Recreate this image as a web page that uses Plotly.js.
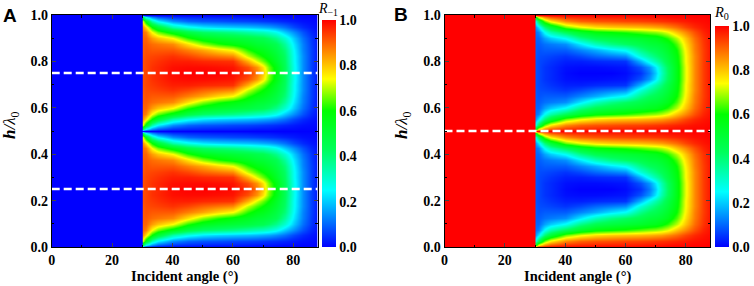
<!DOCTYPE html>
<html><head><meta charset="utf-8">
<script src="https://cdn.plot.ly/plotly-3.0.1.min.js"></script>
<style>body{margin:0;background:#fff}#chart{width:754px;height:286px}</style>
</head><body><div id="chart"></div>
<script>
// Incident angle columns (deg)
const angles = [0, 29.9, 30, 31, 33, 35, 40, 45, 50, 55, 60, 65, 68, 70, 72, 74, 77, 80, 83, 86, 88];
// h/lambda0 rows
const hValues = [0, 0.01, 0.025, 0.05, 0.075, 0.1, 0.125, 0.15, 0.175, 0.2, 0.225, 0.25, 0.275, 0.3, 0.325, 0.35, 0.375, 0.4, 0.425, 0.45, 0.475, 0.49, 0.5,
                 0.51, 0.525, 0.55, 0.575, 0.6, 0.625, 0.65, 0.675, 0.7, 0.725, 0.75, 0.775, 0.8, 0.825, 0.85, 0.875, 0.9, 0.925, 0.95, 0.975, 0.99, 1.0];

// R_-1 read along rows (row name = h distance from nearest node at 0 / 0.5 / 1)
const rm1_d000 = [0,0, 0,    0,    0,    0,    0,    0,    0,    0,    0,    0,    0,    0,    0,    0,    0,    0,    0,    0,    0];
const rm1_d010 = [0,0, 0.45, 0.25, 0.14, 0.09, 0.05, 0.04, 0.035,0.03, 0.03, 0.025,0.02, 0.02, 0.02, 0.015,0.01, 0.01, 0.005,0.005,0];
const rm1_d025 = [0,0, 0.72, 0.55, 0.34, 0.24, 0.14, 0.1,  0.085,0.08, 0.07, 0.065,0.06, 0.055,0.05, 0.045,0.035,0.025,0.015,0.01, 0.005];
const rm1_d050 = [0,0, 0.85, 0.77, 0.6,  0.5,  0.34, 0.27, 0.23, 0.21, 0.2,  0.19, 0.18, 0.17, 0.16, 0.14, 0.11, 0.07, 0.04, 0.02, 0.01];
const rm1_d075 = [0,0, 0.89, 0.87, 0.74, 0.66, 0.56, 0.47, 0.42, 0.4,  0.38, 0.35, 0.33, 0.32, 0.3,  0.27, 0.2,  0.14, 0.08, 0.035,0.015];
const rm1_d100 = [0,0, 0.9,  0.9,  0.84, 0.8,  0.74, 0.62, 0.55, 0.52, 0.5,  0.48, 0.46, 0.45, 0.42, 0.38, 0.3,  0.2,  0.11, 0.05, 0.02];
const rm1_d125 = [0,0, 0.91, 0.91, 0.89, 0.88, 0.86, 0.77, 0.68, 0.62, 0.58, 0.54, 0.51, 0.5,  0.48, 0.45, 0.36, 0.23, 0.125,0.055,0.02];
const rm1_d150 = [0,0, 0.91, 0.92, 0.91, 0.91, 0.91, 0.87, 0.83, 0.78, 0.74, 0.62, 0.57, 0.55, 0.52, 0.48, 0.4,  0.25, 0.13, 0.06, 0.02];
const rm1_d175 = [0,0, 0.915,0.925,0.93, 0.935,0.95, 0.93, 0.9,  0.88, 0.86, 0.71, 0.64, 0.6,  0.56, 0.51, 0.42, 0.26, 0.14, 0.06, 0.02];
const rm1_d200 = [0,0, 0.92, 0.93, 0.94, 0.95, 0.97, 0.97, 0.96, 0.955,0.95, 0.82, 0.72, 0.66, 0.6,  0.53, 0.43, 0.26, 0.14, 0.06, 0.02];
const rm1_d225 = [0,0, 0.92, 0.93, 0.95, 0.96, 0.985,0.99, 0.99, 0.985,0.98, 0.92, 0.85, 0.77, 0.66, 0.57, 0.44, 0.27, 0.14, 0.06, 0.02];
const rm1_d250 = [0,0, 0.92, 0.93, 0.95, 0.96, 0.99, 1.0,  1.0,  1.0,  0.99, 0.95, 0.88, 0.8,  0.68, 0.58, 0.44, 0.27, 0.14, 0.06, 0.02];

// R_0 read along rows
const r0_d000 = [1,1, 1,    1,    1,    1,    1,    1,    1,    1,    1,    1,    1,    1,    1,    1,    1,    1,    1,    1,    1];
const r0_d010 = [1,1, 0.55, 0.75, 0.86, 0.91, 0.95, 0.96, 0.965,0.97, 0.97, 0.975,0.98, 0.98, 0.98, 0.985,0.99, 0.99, 0.995,0.995,1];
const r0_d025 = [1,1, 0.28, 0.45, 0.66, 0.76, 0.86, 0.9,  0.915,0.92, 0.93, 0.935,0.94, 0.945,0.95, 0.955,0.965,0.975,0.985,0.99, 0.995];
const r0_d050 = [1,1, 0.15, 0.23, 0.4,  0.5,  0.66, 0.73, 0.77, 0.79, 0.8,  0.81, 0.82, 0.83, 0.84, 0.86, 0.89, 0.93, 0.96, 0.98, 0.99];
const r0_d075 = [1,1, 0.11, 0.13, 0.26, 0.34, 0.44, 0.53, 0.58, 0.6,  0.62, 0.65, 0.67, 0.68, 0.7,  0.73, 0.8,  0.86, 0.92, 0.965,0.985];
const r0_d100 = [1,1, 0.1,  0.1,  0.16, 0.2,  0.26, 0.38, 0.45, 0.48, 0.5,  0.52, 0.54, 0.55, 0.58, 0.62, 0.7,  0.8,  0.89, 0.95, 0.98];
const r0_d125 = [1,1, 0.09, 0.09, 0.11, 0.12, 0.14, 0.23, 0.32, 0.38, 0.42, 0.46, 0.49, 0.5,  0.52, 0.55, 0.64, 0.77, 0.875,0.945,0.98];
const r0_d150 = [1,1, 0.09, 0.08, 0.09, 0.09, 0.09, 0.13, 0.17, 0.22, 0.26, 0.38, 0.43, 0.45, 0.48, 0.52, 0.6,  0.75, 0.87, 0.94, 0.98];
const r0_d175 = [1,1, 0.085,0.075,0.07, 0.065,0.05, 0.07, 0.1,  0.12, 0.14, 0.29, 0.36, 0.4,  0.44, 0.49, 0.58, 0.74, 0.86, 0.94, 0.98];
const r0_d200 = [1,1, 0.08, 0.07, 0.06, 0.05, 0.03, 0.03, 0.04, 0.045,0.05, 0.18, 0.28, 0.34, 0.4,  0.47, 0.57, 0.74, 0.86, 0.94, 0.98];
const r0_d225 = [1,1, 0.08, 0.07, 0.05, 0.04, 0.015,0.01, 0.01, 0.015,0.02, 0.08, 0.15, 0.23, 0.34, 0.43, 0.56, 0.73, 0.86, 0.94, 0.98];
const r0_d250 = [1,1, 0.08, 0.07, 0.05, 0.04, 0.01, 0,    0,    0,    0.01, 0.05, 0.12, 0.2,  0.32, 0.42, 0.56, 0.73, 0.86, 0.94, 0.98];

// dashed guide lines
const dashA = [0.25, 0.75];
const dashB = [0.5];
const angleSpan = [0, 88];

const xTicks = [0, 20, 40, 60, 80];
const yTicks = [0, 0.2, 0.4, 0.6, 0.8, 1.0];

function buildZ(r) {
  const n = r.length;
  const half = r.slice(0, n).concat(r.slice(1, n - 1).reverse());
  return half.concat(half, [r[0]]);
}
const zA = buildZ([rm1_d000, rm1_d010, rm1_d025, rm1_d050, rm1_d075, rm1_d100, rm1_d125, rm1_d150, rm1_d175, rm1_d200, rm1_d225, rm1_d250]);
const zB = buildZ([r0_d000, r0_d010, r0_d025, r0_d050, r0_d075, r0_d100, r0_d125, r0_d150, r0_d175, r0_d200, r0_d225, r0_d250]);

const W = 754, H = 286;
const px = v => v / W, py = v => 1 - v / H;

const cscale = [[0,'rgb(0,0,255)'],[0.125,'rgb(0,128,255)'],[0.25,'rgb(0,255,255)'],[0.43,'rgb(0,255,90)'],
                [0.6,'rgb(0,255,0)'],[0.74,'rgb(255,255,0)'],[0.87,'rgb(255,128,0)'],[1,'rgb(255,0,0)']];

const SERIF = '"Liberation Serif", "Times New Roman", Times, serif';
const SANS = '"Liberation Sans", Arial, sans-serif';
const tickFont = {family: SERIF, size:14, color:'#000'};
const b = s => '<b>' + s + '</b>';

function cbar(xLeft, topPx) {
  return {x: px(xLeft), xanchor:'left', y: py(247), yanchor:'bottom', len: 247 - topPx, lenmode:'pixels',
          thickness: 14, thicknessmode:'pixels', outlinewidth: 0, xpad: 0, ypad: 0,
          tickvals: yTicks, ticktext: yTicks.map(v => b(v.toFixed(1))), ticks:'', tickfont: tickFont, title:{text:''}};
}

const traces = [
  {type:'heatmap', x: angles, y: hValues, z: zA, zmin:0, zmax:1, zsmooth:'best', colorscale: cscale,
   xaxis:'x', yaxis:'y', colorbar: cbar(322, 20), hoverinfo:'skip'},
  {type:'heatmap', x: angles, y: hValues, z: zB, zmin:0, zmax:1, zsmooth:'best', colorscale: cscale,
   xaxis:'x2', yaxis:'y2', colorbar: cbar(715, 26), hoverinfo:'skip'}
];
dashA.forEach(h => traces.push({type:'scatter', mode:'lines', x: angleSpan, y:[h,h], xaxis:'x', yaxis:'y',
  line:{color:'#fff', width:2.5, dash:'8px,4px'}, showlegend:false, hoverinfo:'skip'}));
dashB.forEach(h => traces.push({type:'scatter', mode:'lines', x: angleSpan, y:[h,h], xaxis:'x2', yaxis:'y2',
  line:{color:'#fff', width:2.5, dash:'8px,4px'}, showlegend:false, hoverinfo:'skip'}));

function xax(dom, anchor) {
  return {domain: dom, anchor: anchor, range:[0,88], tickvals: xTicks, ticktext: xTicks.map(v => b(String(v))),
          ticks:'inside', ticklen:4, tickwidth:1,
          showline:true, linecolor:'#000', linewidth:1, mirror:'ticks', showgrid:false, zeroline:false,
          tickfont: tickFont, minor:{tickvals:[10,30,50,70], ticks:'inside', ticklen:2.5, tickcolor:'#000'}, fixedrange:true};
}
function yax(anchor) {
  return {domain:[py(247), py(15)], anchor: anchor, range:[0,1], tickvals: yTicks, ticktext: yTicks.map(v => b(v.toFixed(1))),
          ticks:'inside', ticklen:4, tickwidth:1, showline:true, linecolor:'#000', linewidth:1, mirror:'ticks',
          showgrid:false, zeroline:false, tickfont: tickFont,
          minor:{tickvals:[0.1,0.3,0.5,0.7,0.9], ticks:'inside', ticklen:2.5, tickcolor:'#000'}, fixedrange:true};
}

const ann = (x, y, text, size, opts) => Object.assign({xref:'paper', yref:'paper', x: px(x), y: py(y), text: text,
  showarrow:false, font:{family: SERIF, size: size, color:'#000'}, xanchor:'center', yanchor:'middle',
  borderpad:0}, opts || {});

const annotations = [
  ann(9.5, 15.5, b('A'), 19, {font:{family: SANS, size:19, color:'#000'}}),
  ann(401.5, 14.5, b('B'), 19, {font:{family: SANS, size:19, color:'#000'}}),
  ann(11, 125, '<b><i>h</i></b><i>/λ</i><sub>0</sub>', 17, {textangle:-90}),
  ann(403, 125, '<b><i>h</i></b><i>/λ</i><sub>0</sub>', 17, {textangle:-90}),
  ann(184.6, 276, b('Incident angle (°)'), 14.5),
  ann(577.3, 276, b('Incident angle (°)'), 14.5),
  ann(317, 9.5, '<i>R</i><sub>−1</sub>', 14, {xanchor:'left'}),
  ann(713, 13, '<i>R</i><sub>0</sub>', 14.5, {xanchor:'left'})
];

const layout = {
  width: W, height: H, margin:{l:0, r:0, t:0, b:0}, paper_bgcolor:'#fff', plot_bgcolor:'#fff',
  showlegend:false,
  xaxis: xax([px(51.7), px(317.5)], 'y'),
  yaxis: yax('x'),
  xaxis2: xax([px(444.5), px(710)], 'y2'),
  yaxis2: yax('x2'),
  annotations: annotations
};

Plotly.newPlot('chart', traces, layout, {staticPlot:true, displayModeBar:false});
</script>
</body></html>
